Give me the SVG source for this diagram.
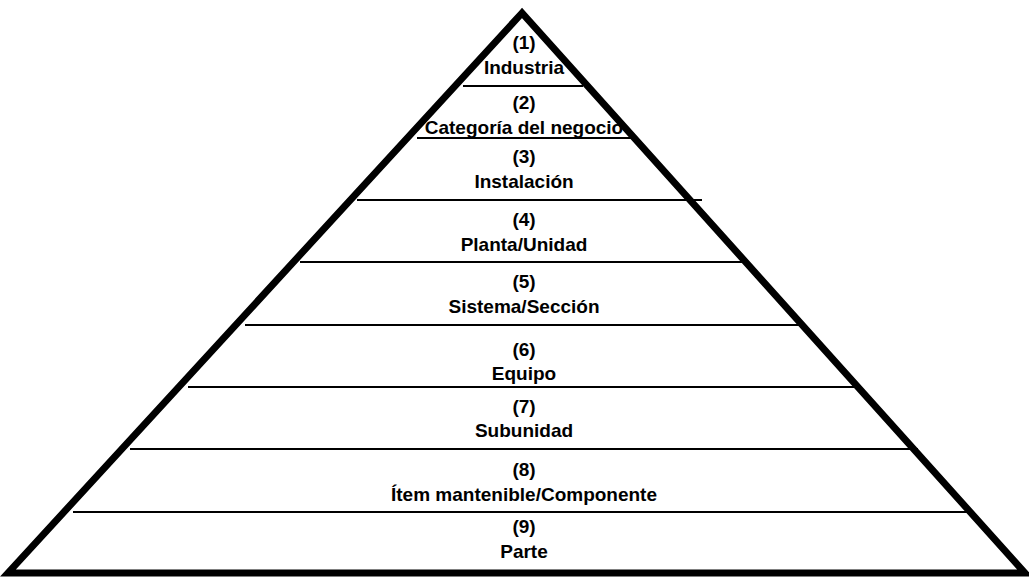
<svg xmlns="http://www.w3.org/2000/svg" width="1029" height="577" viewBox="0 0 1029 577">
  <style>
    .outline { fill: #ffffff; stroke: #000000; stroke-width: 7; stroke-linejoin: miter; }
    .tier { stroke: #000000; stroke-width: 2; fill: none; }
    .lbl { font-family: "Liberation Sans", Arial, sans-serif; font-weight: bold; font-size: 19px; fill: #000000; text-anchor: middle; }
  </style>
  <rect x="0" y="0" width="1029" height="577" fill="#ffffff"/>

  <!-- pyramid outline -->
  <polygon id="pyramid" class="outline" points="522,13 8,573 1025,573"/>

  <!-- dividing lines between levels -->
  <g id="connectors">
    <line class="tier" x1="463" y1="86" x2="583" y2="86"/>
    <line class="tier" x1="417" y1="138" x2="637" y2="138"/>
    <line class="tier" x1="357" y1="200" x2="702" y2="200"/>
    <line class="tier" x1="300" y1="262" x2="748" y2="262"/>
    <line class="tier" x1="245" y1="325" x2="805" y2="325"/>
    <line class="tier" x1="188" y1="387" x2="860" y2="387"/>
    <line class="tier" x1="130" y1="449" x2="918" y2="449"/>
    <line class="tier" x1="73" y1="512" x2="972" y2="512"/>
  </g>

  <g id="level1"><text class="lbl" x="524" y="49">(1)</text><text class="lbl" x="524" y="74">Industria</text></g>
  <g id="level2"><text class="lbl" x="524" y="109">(2)</text><text class="lbl" x="524" y="134">Categoría del negocio</text></g>
  <g id="level3"><text class="lbl" x="524" y="163">(3)</text><text class="lbl" x="524" y="188">Instalación</text></g>
  <g id="level4"><text class="lbl" x="524" y="226">(4)</text><text class="lbl" x="524" y="251">Planta/Unidad</text></g>
  <g id="level5"><text class="lbl" x="524" y="288">(5)</text><text class="lbl" x="524" y="313">Sistema/Sección</text></g>
  <g id="level6"><text class="lbl" x="524" y="356">(6)</text><text class="lbl" x="524" y="380">Equipo</text></g>
  <g id="level7"><text class="lbl" x="524" y="413">(7)</text><text class="lbl" x="524" y="437">Subunidad</text></g>
  <g id="level8"><text class="lbl" x="524" y="476">(8)</text><text class="lbl" x="524" y="501">Ítem mantenible/Componente</text></g>
  <g id="level9"><text class="lbl" x="524" y="533">(9)</text><text class="lbl" x="524" y="558">Parte</text></g>
</svg>
